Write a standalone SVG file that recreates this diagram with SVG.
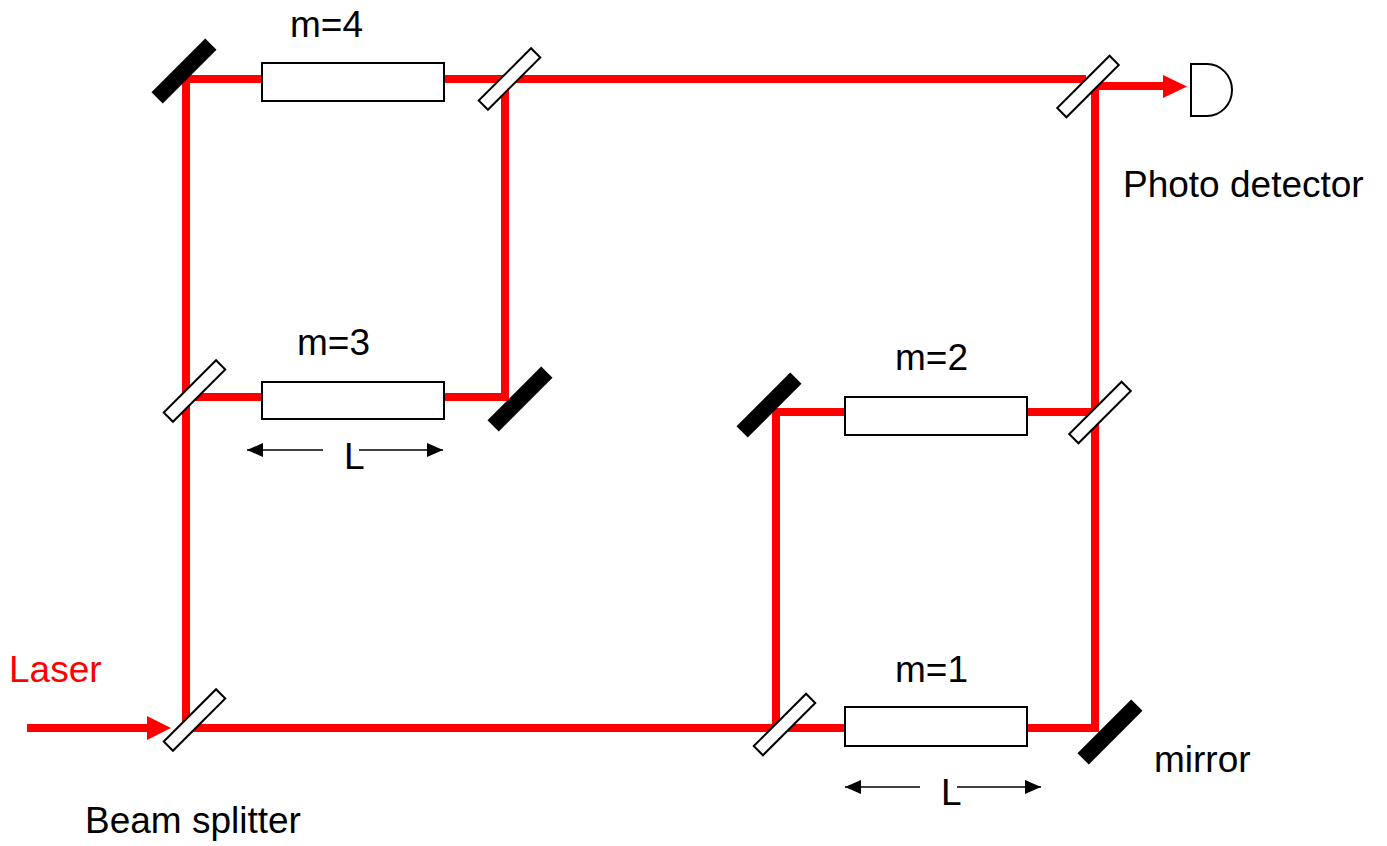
<svg xmlns="http://www.w3.org/2000/svg" width="1387" height="846" viewBox="0 0 1387 846">
<defs>
<style>
.beam{fill:none;stroke:#FF0000;stroke-width:8;stroke-linejoin:miter;stroke-linecap:butt}
.bhead{fill:#FF0000}
.box{fill:#FFFFFF;stroke:#000000;stroke-width:2}
.bs{fill:#FFFFFF;stroke:#000000;stroke-width:2}
.mir{fill:#000000}
.dim{fill:none;stroke:#000000;stroke-width:1.5}
.t{font-family:"Liberation Sans",Arial,sans-serif;font-size:37px;fill:#000000}
.red{fill:#FF0000}
</style>
<marker id="ah" viewBox="0 0 16 14" refX="16" refY="7" markerWidth="16" markerHeight="14" markerUnits="userSpaceOnUse" orient="auto">
<path d="M0,0 L16,7 L0,14 Z" fill="#000000"/>
</marker>
</defs>
<rect width="1387" height="846" fill="#FFFFFF"/>
<g id="connectors">
<path class="beam" d="M27,728 H148"/>
<polygon class="bhead" points="147,716 171,728 147,740"/>
<path class="beam" d="M186,728 H1095 V86 H1164"/>
<polygon class="bhead" points="1163,75 1187,86.5 1163,98"/>
<path class="beam" d="M186,728 V79 H1086"/>
<path class="beam" d="M505,79 V397 H186"/>
<path class="beam" d="M776,728 V412 H1095"/>
<line class="dim" x1="323" y1="450" x2="247" y2="450" marker-end="url(#ah)"/>
<line class="dim" x1="359" y1="450" x2="443" y2="450" marker-end="url(#ah)"/>
<line class="dim" x1="920" y1="787" x2="845" y2="787" marker-end="url(#ah)"/>
<line class="dim" x1="957" y1="787" x2="1041" y2="787" marker-end="url(#ah)"/>
</g>
<g id="box-m4"><rect class="box" x="262" y="63" width="182" height="38"/><text class="t" x="290" y="37">m=4</text></g>
<g id="box-m3"><rect class="box" x="262" y="382" width="182" height="37"/><text class="t" x="297" y="355">m=3</text><text class="t" x="344" y="469">L</text></g>
<g id="box-m2"><rect class="box" x="845" y="397" width="182" height="38"/><text class="t" x="895" y="370">m=2</text></g>
<g id="box-m1"><rect class="box" x="845" y="707" width="182" height="39"/><text class="t" x="895" y="682">m=1</text><text class="t" x="941" y="805">L</text></g>
<g id="mirror-tl"><rect class="mir" x="-38" y="-8" width="76" height="16" transform="translate(184,71) rotate(-45)"/></g>
<g id="mirror-m3"><rect class="mir" x="-38" y="-8" width="76" height="16" transform="translate(520,399) rotate(-45)"/></g>
<g id="mirror-m2"><rect class="mir" x="-38" y="-8" width="76" height="16" transform="translate(769,405) rotate(-45)"/></g>
<g id="mirror-br"><rect class="mir" x="-38" y="-8" width="76" height="16" transform="translate(1110,732) rotate(-45)"/><text class="t" x="1154" y="772">mirror</text></g>
<g id="bs-top-mid"><rect class="bs" x="-37" y="-6.5" width="74" height="13" transform="translate(509.5,79) rotate(-45)"/></g>
<g id="bs-top-right"><rect class="bs" x="-37" y="-6.5" width="74" height="13" transform="translate(1088,86.5) rotate(-45)"/></g>
<g id="bs-m3"><rect class="bs" x="-37" y="-6.5" width="74" height="13" transform="translate(194.5,391) rotate(-45)"/></g>
<g id="bs-bottom-left"><rect class="bs" x="-37" y="-6.5" width="74" height="13" transform="translate(194.5,720) rotate(-45)"/><text class="t" x="85" y="833">Beam splitter</text></g>
<g id="bs-m1"><rect class="bs" x="-37" y="-6.5" width="74" height="13" transform="translate(784.5,724.5) rotate(-45)"/></g>
<g id="bs-m2"><rect class="bs" x="-37" y="-6.5" width="74" height="13" transform="translate(1100,412.5) rotate(-45)"/></g>
<g id="detector"><path d="M1191,64 H1207 A25,26 0 0 1 1207,116 H1191 Z" fill="#FFFFFF" stroke="#000000" stroke-width="2"/><text class="t" x="1123" y="197">Photo detector</text></g>
<g id="laser"><text class="t red" x="9" y="682">Laser</text></g>
</svg>
